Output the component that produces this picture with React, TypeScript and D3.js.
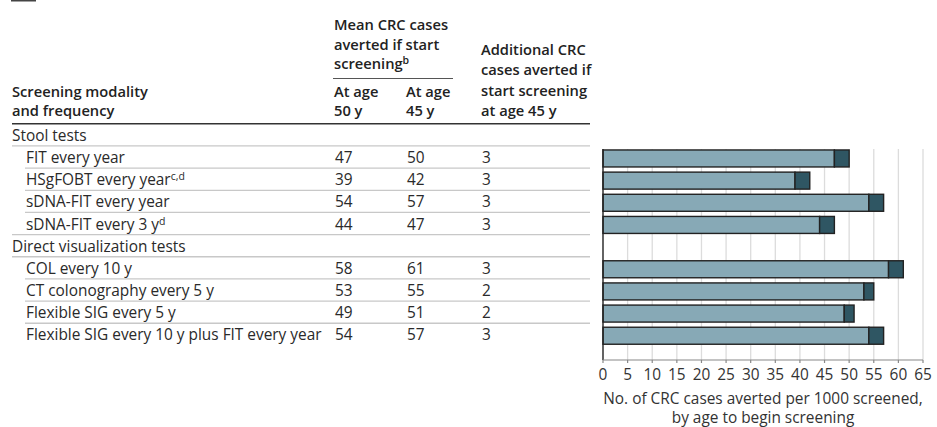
import { useMemo } from 'react';
import * as d3 from 'd3';

// Table rows, in display order; category rows have no values
const rowLabels = [
  'Stool tests',
  'FIT every year',
  'HSgFOBT every year',
  'sDNA-FIT every year',
  'sDNA-FIT every 3 y',
  'Direct visualization tests',
  'COL every 10 y',
  'CT colonography every 5 y',
  'Flexible SIG every 5 y',
  'Flexible SIG every 10 y plus FIT every year',
];
const rowSup = ['', '', 'c,d', '', 'd', '', '', '', '', ''];
const isCategory = [true, false, false, false, false, true, false, false, false, false];
const at50 = [null, 47, 39, 54, 44, null, 58, 53, 49, 54];
const at45 = [null, 50, 42, 57, 47, null, 61, 55, 51, 57];
const additional = [null, 3, 3, 3, 3, null, 3, 2, 2, 3];
const xTicks = [0, 5, 10, 15, 20, 25, 30, 35, 40, 45, 50, 55, 60, 65];

const FONT = '"Open Sans", Roboto, sans-serif';
const LIGHT = '#87a9b6';
const DARK = '#2f5663';

export default function App() {
  const width = 937;
  const height = 427;

  const x = useMemo(() => d3.scaleLinear().domain([0, 65]).range([603, 923]), []);
  const y = useMemo(
    () => d3.scaleBand<number>().domain(d3.range(rowLabels.length)).range([123.8, 123.8 + 22.16 * rowLabels.length]),
    []
  );

  const axisY = 360;
  const plotTop = 149;
  const barPad = 4;
  const barH = 17;
  const fs = 15.4;
  const hfs = 14.7;

  return (
    <svg width={width} height={height} style={{ position: 'absolute', left: 0, top: 0 }} fontFamily={FONT}>
      <rect x={11} y={0} width={25} height={1.5} fill="#444" />

      {/* header */}
      <g fontWeight={600} fontSize={hfs} fill="#222">
        <text x={334} y={30}>Mean CRC cases</text>
        <text x={334} y={50}>averted if start</text>
        <text x={334} y={69}>
          screening<tspan fontSize={10.5} dy={-5}>b</tspan>
        </text>
        <line x1={333} x2={453} y1={78.5} y2={78.5} stroke="#555" strokeWidth={1.2} />
        <text x={12} y={97}>Screening modality</text>
        <text x={12} y={116}>and frequency</text>
        <text x={334} y={97}>At age</text>
        <text x={334} y={116}>50 y</text>
        <text x={406} y={97}>At age</text>
        <text x={406} y={116}>45 y</text>
        <text x={481} y={55}>Additional CRC</text>
        <text x={481} y={75}>cases averted if</text>
        <text x={481} y={96}>start screening</text>
        <text x={481} y={116}>at age 45 y</text>
      </g>
      <line x1={12} x2={590} y1={123.8} y2={123.8} stroke="#333" strokeWidth={1.5} />

      {/* table rows */}
      <g fontSize={fs} fill="#2a2a2a">
        {rowLabels.map((label, i) => {
          const top = y(i)!;
          const cy = top + y.bandwidth() / 2 + 1;
          const next = i + 1 < rowLabels.length ? i + 1 : -1;
          const lineX = next >= 0 && isCategory[next] ? 12 : isCategory[i] ? 12 : 25;
          return (
            <g key={label}>
              <text x={isCategory[i] ? 12 : 26} y={cy + 5}>
                {label}
                {rowSup[i] && (
                  <tspan fontSize={10.5} dy={-5}>
                    {rowSup[i]}
                  </tspan>
                )}
              </text>
              {at50[i] !== null && (
                <>
                  <text x={335} y={cy + 5}>{at50[i]}</text>
                  <text x={407} y={cy + 5}>{at45[i]}</text>
                  <text x={482} y={cy + 5}>{additional[i]}</text>
                </>
              )}
              {i < rowLabels.length - 1 && (
                <line
                  x1={lineX}
                  x2={590}
                  y1={top + y.bandwidth()}
                  y2={top + y.bandwidth()}
                  stroke="#c8c8c8"
                  strokeWidth={1.3}
                />
              )}
            </g>
          );
        })}
      </g>

      {/* grid */}
      {xTicks.slice(1).map(t => (
        <line key={t} x1={x(t)} x2={x(t)} y1={plotTop} y2={axisY} stroke="#dcdcdc" strokeWidth={1.3} />
      ))}

      {/* bars */}
      {rowLabels.map((label, i) =>
        at50[i] === null ? null : (
          <g key={label} stroke="#222" strokeWidth={1.4}>
            <rect x={x(0)} y={y(i)! + barPad} width={x(at50[i]!) - x(0)} height={barH} fill={LIGHT} />
            <rect
              x={x(at50[i]!)}
              y={y(i)! + barPad}
              width={x(at45[i]!) - x(at50[i]!)}
              height={barH}
              fill={DARK}
            />
          </g>
        )
      )}

      {/* axes */}
      <line x1={x(0)} x2={x(0)} y1={plotTop} y2={axisY} stroke="#222" strokeWidth={1.4} />
      <line x1={x(0)} x2={x(65)} y1={axisY} y2={axisY} stroke="#888" strokeWidth={1.2} />
      <g fontSize={fs} fill="#333" textAnchor="middle">
        {xTicks.map(t => (
          <g key={t}>
            <line x1={x(t)} x2={x(t)} y1={axisY} y2={axisY + 3} stroke="#888" strokeWidth={1.2} />
            <text x={x(t)} y={axisY + 20}>{t}</text>
          </g>
        ))}
        <text x={(x(0) + x(65)) / 2} y={404}>No. of CRC cases averted per 1000 screened,</text>
        <text x={(x(0) + x(65)) / 2} y={423}>by age to begin screening</text>
      </g>
    </svg>
  );
}
